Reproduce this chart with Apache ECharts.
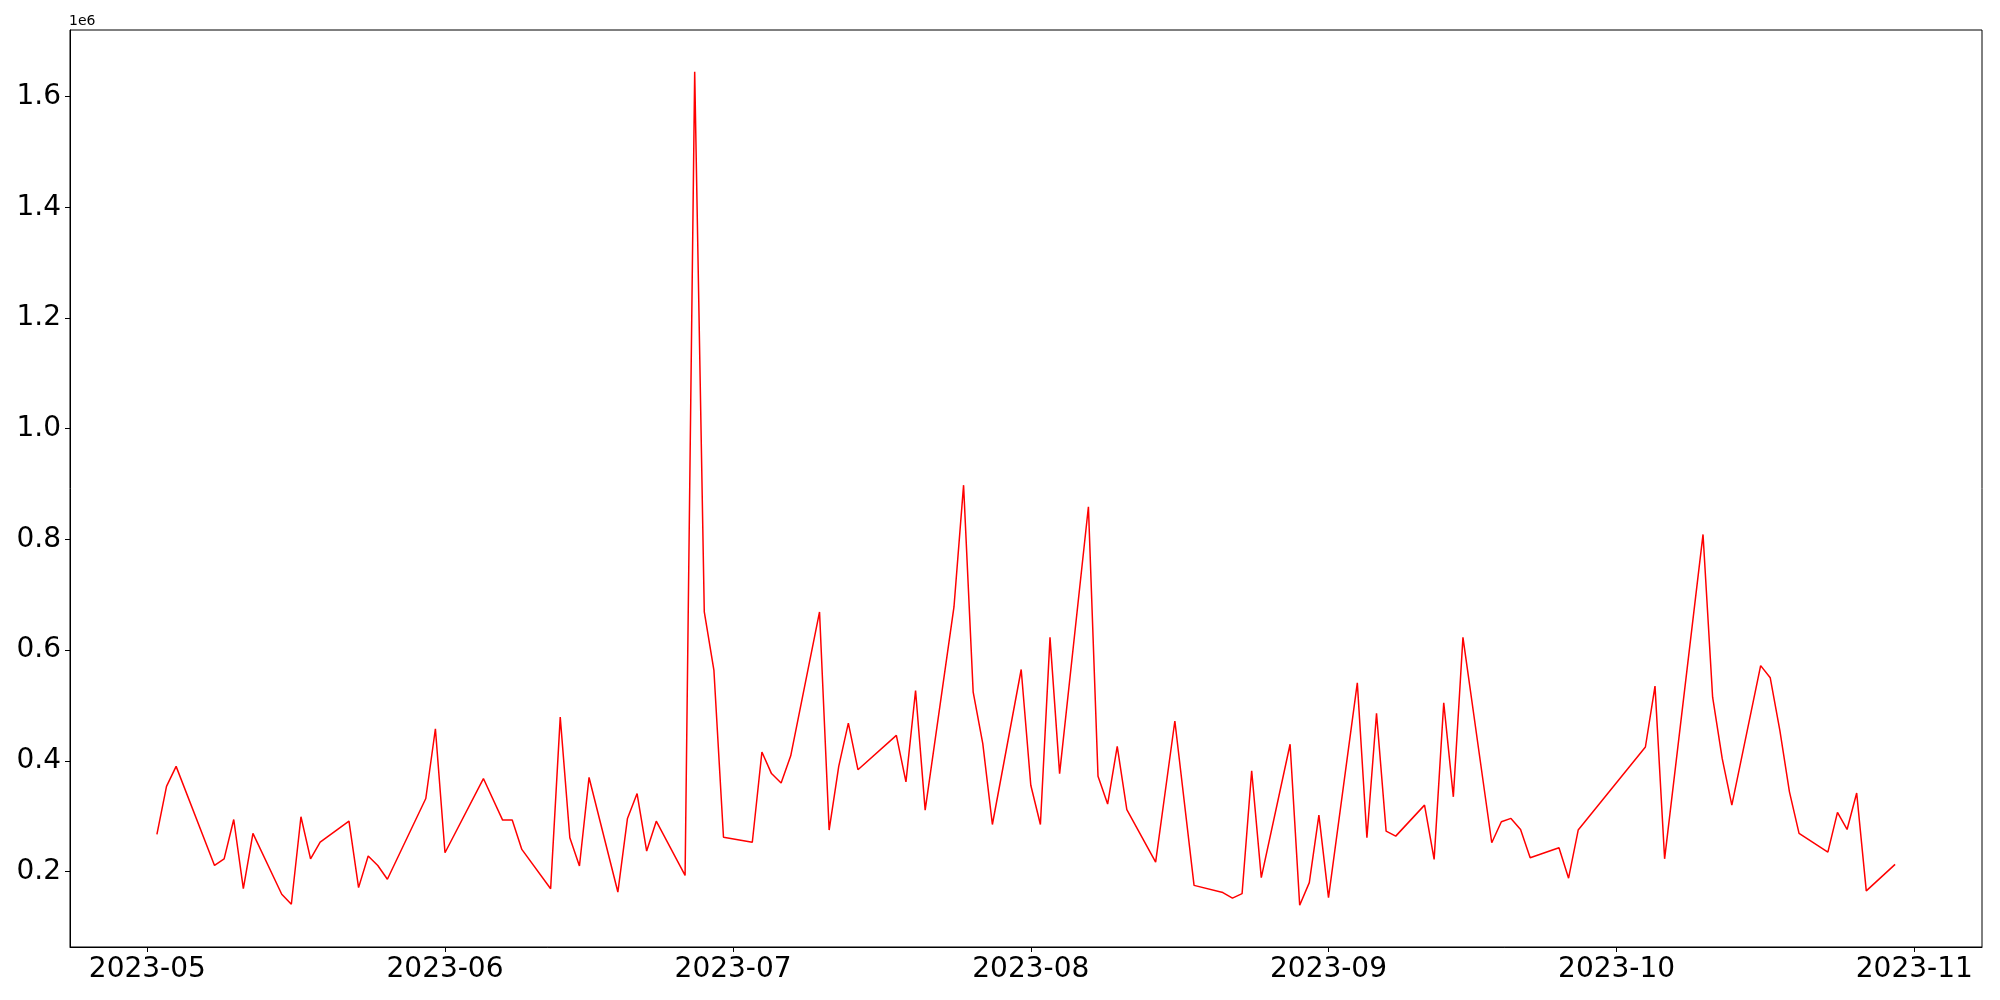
<!DOCTYPE html>
<html>
<head>
<meta charset="utf-8">
<script src="https://cdn.jsdelivr.net/npm/echarts@6/dist/echarts.min.js"></script>
<style>
  html, body { margin: 0; padding: 0; background: #fff; }
  #main { width: 2000px; height: 1000px; }
</style>
</head>
<body>
<div id="main"></div>
<script>
// 日期 / 数值
var dates = [
    '2023-05-02','2023-05-03','2023-05-04','2023-05-08','2023-05-09','2023-05-10','2023-05-11','2023-05-12',
    '2023-05-15','2023-05-16','2023-05-17','2023-05-18','2023-05-19','2023-05-22','2023-05-23','2023-05-24',
    '2023-05-25','2023-05-26','2023-05-30','2023-05-31','2023-06-01','2023-06-05','2023-06-07','2023-06-08',
    '2023-06-09','2023-06-12','2023-06-13','2023-06-14','2023-06-15','2023-06-16','2023-06-19','2023-06-20',
    '2023-06-21','2023-06-22','2023-06-23','2023-06-26','2023-06-27','2023-06-28','2023-06-29','2023-06-30',
    '2023-07-03','2023-07-04','2023-07-05','2023-07-06','2023-07-07','2023-07-10','2023-07-11','2023-07-12',
    '2023-07-13','2023-07-14','2023-07-18','2023-07-19','2023-07-20','2023-07-21','2023-07-24','2023-07-25',
    '2023-07-26','2023-07-27','2023-07-28','2023-07-31','2023-08-01','2023-08-02','2023-08-03','2023-08-04',
    '2023-08-07','2023-08-08','2023-08-09','2023-08-10','2023-08-11','2023-08-14','2023-08-16','2023-08-18',
    '2023-08-21','2023-08-22','2023-08-23','2023-08-24','2023-08-25','2023-08-28','2023-08-29','2023-08-30',
    '2023-08-31','2023-09-01','2023-09-04','2023-09-05','2023-09-06','2023-09-07','2023-09-08','2023-09-11',
    '2023-09-12','2023-09-13','2023-09-14','2023-09-15','2023-09-18','2023-09-19','2023-09-20','2023-09-21',
    '2023-09-22','2023-09-25','2023-09-26','2023-09-27','2023-10-04','2023-10-05','2023-10-06','2023-10-10',
    '2023-10-11','2023-10-12','2023-10-13','2023-10-16','2023-10-17','2023-10-18','2023-10-19','2023-10-20',
    '2023-10-23','2023-10-24','2023-10-25','2023-10-26','2023-10-27','2023-10-30'
];
var values = [
    267000, 354000, 390000, 211000, 223000, 294000, 169000, 269000,
    159000, 141000, 299000, 223000, 253000, 291000, 171000, 228000,
    211000, 186000, 332000, 458000, 234000, 368000, 293000, 293000,
    240000, 169000, 479000, 261000, 210000, 370000, 163000, 296000,
    341000, 237000, 291000, 193000, 1645000, 669000, 564000, 262000,
    253000, 416000, 377000, 360000, 409000, 669000, 275000, 390000,
    468000, 384000, 446000, 362000, 527000, 311000, 678000, 898000,
    524000, 431000, 285000, 565000, 356000, 285000, 623000, 377000,
    859000, 372000, 322000, 426000, 312000, 217000, 472000, 175000,
    162000, 152000, 160000, 382000, 189000, 430000, 139000, 180000,
    302000, 153000, 541000, 261000, 486000, 273000, 264000, 320000,
    222000, 505000, 335000, 623000, 252000, 290000, 296000, 276000,
    225000, 243000, 188000, 275000, 425000, 535000, 223000, 809000,
    515000, 404000, 320000, 572000, 550000, 455000, 344000, 269000,
    235000, 307000, 276000, 342000, 165000, 213000
];
// 刻度
var monthTicks = ['2023-05-01','2023-06-01','2023-07-01','2023-08-01','2023-09-01','2023-10-01','2023-11-01'];
var yTicks = [200000, 400000, 600000, 800000, 1000000, 1200000, 1400000, 1600000];

function toTime(s){
    var p = s.split('-');
    return Date.UTC(+p[0], +p[1] - 1, +p[2]);
}

var seriesData = [];
for (var i = 0; i < dates.length; i++) {
    seriesData.push([toTime(dates[i]), values[i]]);
}

// matplotlib 默认 5% 边距
var xMin = toTime(dates[0]), xMax = toTime(dates[dates.length - 1]);
var xPad = (xMax - xMin) * 0.05;
var yMin = Math.min.apply(null, values), yMax = Math.max.apply(null, values);
var yPad = (yMax - yMin) * 0.05;

var myChart = echarts.init(document.getElementById('main'));
var font = 'DejaVu Sans';

var option = {
    animation: false,
    backgroundColor: '#fff',
    grid: {
        left: 70,
        right: 18,
        top: 30,
        bottom: 53,
        show: true,
        borderColor: '#000',
        borderWidth: 1,
        backgroundColor: 'transparent'
    },
    graphic: [{
        type: 'text',
        left: 69,
        top: 14,
        style: { text: '1e6', fontSize: 14, fontFamily: font, fill: '#000' }
    }],
    xAxis: {
        type: 'value',
        scale: true,
        min: xMin - xPad,
        max: xMax + xPad,
        axisLine: { show: true, lineStyle: { color: '#000', width: 1 } },
        axisTick: {
            show: true,
            length: 5,
            lineStyle: { color: '#000', width: 1 },
            customValues: monthTicks.map(toTime)
        },
        axisLabel: {
            customValues: monthTicks.map(toTime),
            fontSize: 28,
            fontFamily: font,
            color: '#000',
            margin: 9,
            showMinLabel: true,
            showMaxLabel: true,
            formatter: function (v) {
                var d = new Date(v);
                var m = d.getUTCMonth() + 1;
                return d.getUTCFullYear() + '-' + (m < 10 ? '0' + m : m);
            }
        },
        splitLine: { show: false }
    },
    yAxis: {
        type: 'value',
        min: yMin - yPad,
        max: yMax + yPad,
        axisLine: { show: true, lineStyle: { color: '#000', width: 1 } },
        axisTick: {
            show: true,
            length: 5,
            lineStyle: { color: '#000', width: 1 },
            customValues: yTicks
        },
        axisLabel: {
            customValues: yTicks,
            fontSize: 28,
            fontFamily: font,
            color: '#000',
            margin: 9,
            formatter: function (v) { return (v / 1e6).toFixed(1); }
        },
        splitLine: { show: false }
    },
    series: [{
        type: 'line',
        data: seriesData,
        showSymbol: false,
        symbol: 'none',
        lineStyle: { color: '#ff0000', width: 1.5 },
        itemStyle: { color: '#ff0000' }
    }]
};
myChart.setOption(option);
</script>
</body>
</html>
